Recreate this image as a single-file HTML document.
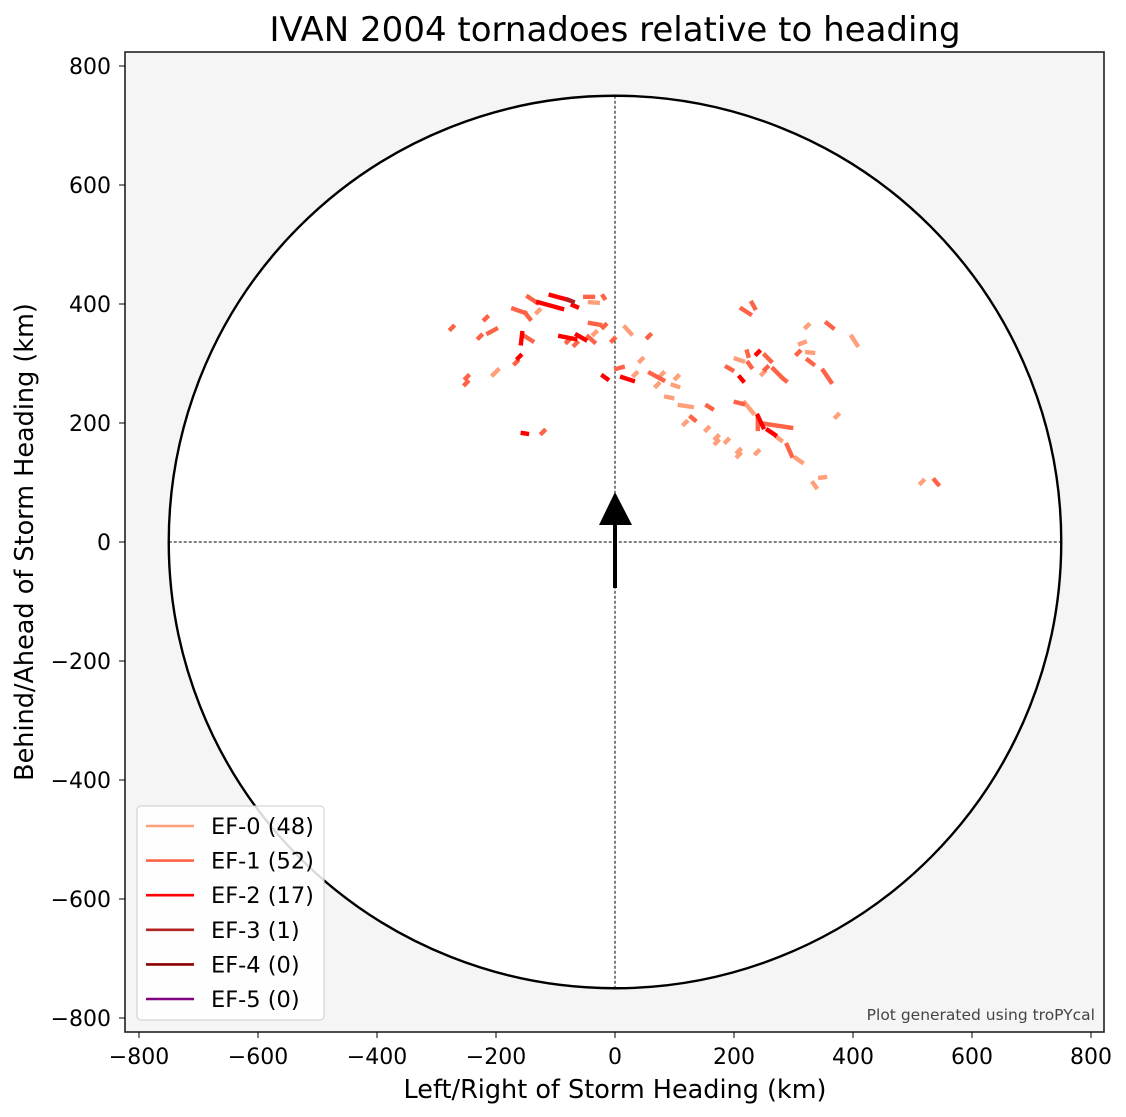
<!DOCTYPE html>
<html><head><meta charset="utf-8"><style>
html,body{margin:0;padding:0;background:#fff}
svg{display:block}
text{font-family:"DejaVu Sans","Liberation Sans",sans-serif;fill:#000}
</style></head><body>
<svg id="chart" width="1126" height="1117" viewBox="0 0 1126 1117" xmlns="http://www.w3.org/2000/svg">
<text x="615" y="41" font-size="34" text-anchor="middle">IVAN 2004 tornadoes relative to heading</text>
<rect x="125" y="52" width="979" height="980" fill="#f5f5f5"/>
<g id="plot"></g>
<rect x="125" y="52" width="979" height="980" fill="none" stroke="#222" stroke-width="1.6"/>
<g id="ticks"></g>
<text x="615" y="1098" font-size="25.5" text-anchor="middle">Left/Right of Storm Heading (km)</text>
<text transform="translate(33,542) rotate(-90)" font-size="25.5" text-anchor="middle">Behind/Ahead of Storm Heading (km)</text>
<text x="1095" y="1020" font-size="15.5" text-anchor="end" style="fill:#444">Plot generated using troPYcal</text>
<g id="legend"></g>
</svg>
<script>
// Tornado tracks in km (x1,y1,x2,y2) relative to storm heading
const ef0Tracks = [[-42,403,-29,402],[-129,388,-129,388],[-34,351,-34,351],[17,361,27,350],[-205,281,-197,289],[44,306,44,306],[34,282,34,282],[79,282,79,282],[71,264,71,264],[97,264,106,261],[104,277,104,277],[86,244,96,242],[109,230,129,227],[118,200,118,200],[155,190,155,190],[171,176,171,176],[171,168,171,168],[188,170,188,170],[208,153,208,153],[208,146,208,146],[239,151,239,151],[203,308,215,304],[249,284,249,284],[218,234,232,217],[272,176,279,171],[304,141,314,134],[333,99,338,92],[345,108,353,109],[323,363,323,363],[398,345,407,331],[311,333,319,336],[323,319,333,318],[373,212,373,212],[516,101,516,101]];
const ef1Tracks = [[-146,412,-131,402],[-50,412,-37,412],[-20,413,-18,410],[-171,392,-151,385],[-151,385,-143,375],[-42,368,-25,365],[-18,363,-18,363],[-217,376,-217,376],[-274,360,-274,360],[-213,351,-200,358],[-227,345,-227,345],[-155,348,-139,338],[-79,338,-79,338],[-66,333,-66,333],[-45,345,-35,336],[-3,340,-3,340],[-166,302,-166,302],[-249,277,-249,277],[-250,267,-250,267],[2,291,13,294],[-121,185,-121,185],[57,346,57,346],[59,284,81,272],[128,210,134,205],[155,229,163,224],[213,392,227,383],[230,402,235,393],[222,320,224,313],[224,301,229,294],[188,294,197,289],[252,314,262,304],[254,292,254,292],[266,291,281,276],[281,276,287,271],[203,235,215,232],[240,210,240,190],[249,199,296,192],[289,163,297,145],[308,318,308,318],[324,306,333,299],[356,368,366,360],[350,288,363,269],[537,104,543,97]];
const ef2Tracks = [[-108,415,-79,407],[-129,403,-89,392],[-71,398,-64,395],[-156,351,-158,334],[-92,346,-67,341],[-64,348,-50,340],[-161,311,-161,311],[-20,279,-13,274],[12,277,30,271],[-155,183,-148,182],[240,318,240,318],[210,277,215,271],[240,212,249,193],[257,188,269,180]];
const ef3Tracks = [[-79,407,-71,404]];
const categories = ['EF-0','EF-1','EF-2','EF-3','EF-4','EF-5'];
const counts = [48,52,17,1,0,0];
const colors = ['lightsalmon','tomato','red','firebrick','darkred','purple'];
const tickValues = [-800,-600,-400,-200,0,200,400,600,800];
const tickLabels = ['\u2212800','\u2212600','\u2212400','\u2212200','0','200','400','600','800'];
const circleRadius = 750;

const NS='http://www.w3.org/2000/svg';
const S=0.595, X0=615, Y0=542;
const sx=v=>X0+v*S, sy=v=>Y0-v*S;
function mk(tag,attrs,parent){const e=document.createElementNS(NS,tag);for(const k in attrs)e.setAttribute(k,attrs[k]);parent.appendChild(e);return e;}
const plot=document.getElementById('plot');
const c=mk('circle',{cx:sx(0),cy:sy(0),r:circleRadius*S,fill:'#fff',stroke:'#000','stroke-width':2.4},plot);


const vl=mk('line',{x1:sx(0),x2:sx(0),y1:sy(circleRadius),y2:sy(-circleRadius),stroke:'#000','stroke-width':1,'stroke-dasharray':'3,2'},plot);


const hl=mk('line',{x1:sx(-circleRadius),x2:sx(circleRadius),y1:sy(0),y2:sy(0),stroke:'#000','stroke-width':1,'stroke-dasharray':'3,2'},plot);


const sets=[ef0Tracks,ef1Tracks,ef2Tracks,ef3Tracks];
sets.forEach((set,i)=>{set.forEach(t=>{
  let [a,b,cc,d]=t; let x1=sx(a),y1=sy(b),x2=sx(cc),y2=sy(d);
  if(x1===x2&&y1===y2){x1-=1.2;y1+=1.2;x2+=1.2;y2-=1.2;}
  const l=mk('line',{x1,y1,x2,y2,stroke:colors[i],'stroke-width':4.4,'stroke-linecap':'square'},plot);
  
  
});});
const sh=mk('rect',{x:613,y:524,width:4,height:64,fill:'#000'},plot);


const hd=mk('polygon',{points:'599,525 632,525 615,492',fill:'#000'},plot);



const ticks=document.getElementById('ticks');
tickValues.forEach((v,i)=>{
  const tx=mk('line',{x1:sx(v),x2:sx(v),y1:1032,y2:1038,stroke:'#000','stroke-width':1},ticks);
  
  
  const lx=mk('text',{x:sx(v),y:1064,'font-size':22,'text-anchor':'middle'},ticks);lx.textContent=tickLabels[i];
  
  
  const ty=mk('line',{x1:119,x2:125,y1:sy(v),y2:sy(v),stroke:'#000','stroke-width':1},ticks);
  
  
  const ly=mk('text',{x:111,y:sy(v)+8,'font-size':22,'text-anchor':'end'},ticks);ly.textContent=tickLabels[i];
  
  
});

const lg=document.getElementById('legend');
const box=mk('rect',{x:137,y:806,width:187,height:214,rx:4,fill:'#fff','fill-opacity':0.85,stroke:'#ccc','stroke-width':1},lg);


categories.forEach((cat,i)=>{
  const y=826+i*34.6;
  const l=mk('line',{x1:146,x2:194,y1:y,y2:y,stroke:colors[i],'stroke-width':2.6},lg);
  
  
  const t=mk('text',{x:211,y:y+8,'font-size':22.5},lg);t.textContent=cat+' ('+counts[i]+')';
  
  
});
</script>
</body></html>
